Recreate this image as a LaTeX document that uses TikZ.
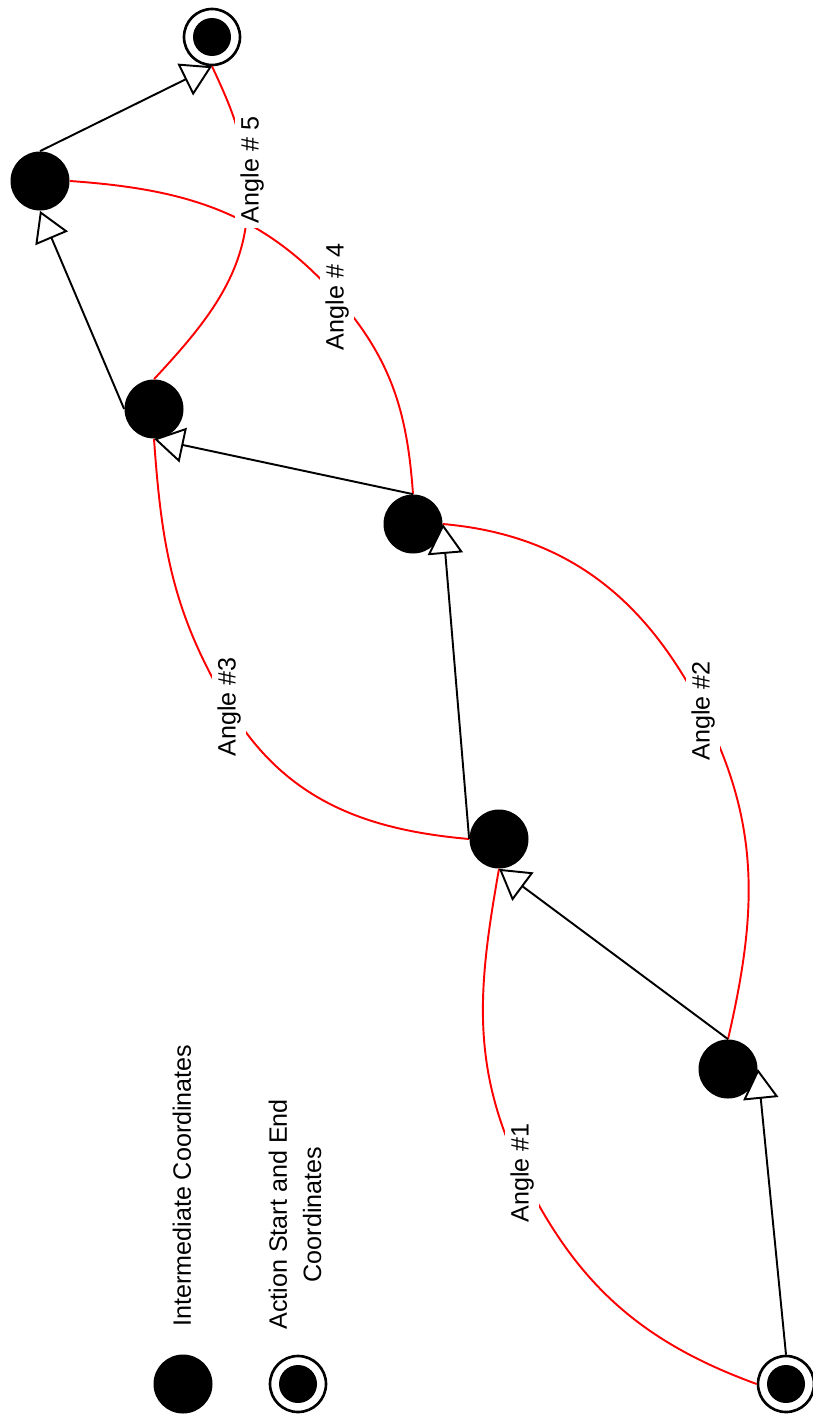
\documentclass[tikz,border=0pt]{standalone}
\usepackage{fontspec}
\setmainfont{Liberation Sans}
\usetikzlibrary{arrows.meta}
\usetikzlibrary{positioning}

\begin{document}
\begin{tikzpicture}[node distance=2.3cm,on grid,
    font=\fontsize{14.3}{19.5}\selectfont,
    waypoint/.style={circle,fill=black,minimum size=1.18cm,inner sep=0pt},
    terminal/.style={circle,draw,line width=1.5pt,fill=white,minimum size=1.12cm,inner sep=0pt,
      path picture={\fill[black] (path picture bounding box.center) circle (0.38cm);}},
    motion/.style={line width=1.1pt,-{Triangle[length=17pt,width=20pt,fill=white]}},
    anglearc/.style={red,line width=1.1pt},
    anglelabel/.style={rotate=90,fill=white,inner sep=3pt}]
  \useasboundingbox (0,0) rectangle (16.24,-28.32);
  % coordinates of the action
  \node[terminal] (p_0) at (15.72,-27.68) {};
  \node[waypoint] (p_1) at (14.56,-21.38) {};
  \node[waypoint] (p_2) at (9.98,-16.78) {};
  \node[waypoint] (p_3) at (8.26,-10.48) {};
  \node[waypoint] (p_4) at (3.08,-8.18) {};
  \node[waypoint] (p_5) at (0.80,-3.62) {};
  \node[terminal] (p_6) at (4.24,-0.74) {};
  % legend
  \node[waypoint] (l_1) at (3.66,-27.68) {};
  \node[terminal] (l_2) [right=of l_1] {};
  \node[rotate=90,anchor=west,inner sep=0pt] (t_1) at (3.64,-26.54) {Intermediate Coordinates};
  \node[rotate=90,anchor=west,inner sep=0pt,align=center] (t_2) at (5.90,-26.60) {Action Start and End\\Coordinates};

  % angles between the moves
  \coordinate (a_1) at (10.44,-23.46);
  \coordinate (a_2) at (14.06,-14.22);
  \coordinate (a_3) at (4.58,-14.14);
  \coordinate (a_4) at (6.74,-5.94);
  \coordinate (a_5) at (4.92,-3.46);
  \draw[anglearc] (p_0.west) to[out=160,in=-64] (a_1) to[out=116,in=-100] (p_2.south);
  \draw[anglearc] (p_1.north) to[out=77,in=-63] (a_2) to[out=117,in=-5] (p_3.east);
  \draw[anglearc] (p_2.west) to[out=175,in=-59] (a_3) to[out=121,in=-86] (p_4.south);
  \draw[anglearc] (p_3.north) to[out=94,in=-49] (a_4) to[out=131,in=-4] (p_5.east);
  \draw[anglearc] (p_4.north) to[out=47,in=-83] (a_5) to[out=97,in=-65] (p_6.south);
  \node[anglelabel] at (a_1) {Angle \#1};
  \node[anglelabel] at (a_2) {Angle \#2};
  \node[anglelabel] at (a_3) {Angle \#3};
  \node[anglelabel] at (a_4) {Angle \# 4};
  \node[anglelabel] at ([xshift=0.12cm,yshift=0.06cm]a_5) {Angle \# 5};

  \path[motion]
    (p_0.north) edge (p_1.east)
    (p_1.north) edge (p_2.south)
    (p_2.west) edge (p_3.east)
    (p_3.north) edge (p_4.south)
    (p_4.west) edge (p_5.south)
    (p_5.north) edge (p_6.south);
\end{tikzpicture}
\end{document}
